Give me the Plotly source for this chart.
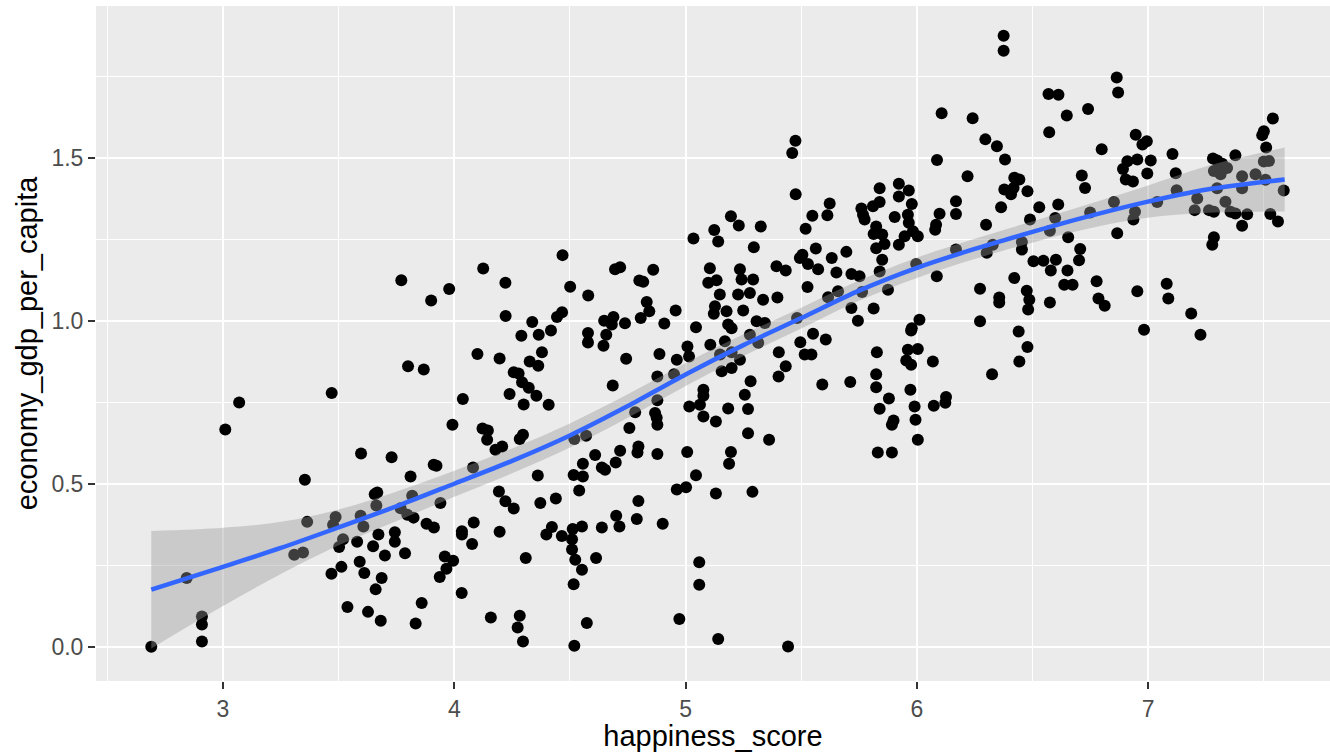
import plotly.graph_objects as go

# ---- data (happiness_score, economy_gdp_per_capita) ----
x_a = [2.69, 2.843, 2.909, 2.909, 2.909, 3.01, 3.07, 3.47, 3.80, 3.354,
       3.597, 3.729, 3.811, 3.667, 3.656, 3.818, 3.663, 3.364, 3.487, 3.476,
       3.595, 3.607, 3.768, 3.797, 3.672, 3.743, 3.743, 3.519, 3.502, 3.580,
       3.649, 3.700, 3.787, 3.308, 3.346, 3.591, 3.512, 3.469, 3.611, 3.686,
       3.660, 3.538, 3.627, 3.682, 3.833, 3.824, 3.771]
y_a = [0.0, 0.211, 0.093, 0.068, 0.016, 0.666, 0.749, 0.778, 0.860, 0.512,
       0.593, 0.581, 0.522, 0.473, 0.468, 0.463, 0.433, 0.383, 0.398, 0.374,
       0.402, 0.369, 0.425, 0.405, 0.344, 0.351, 0.322, 0.330, 0.306, 0.322,
       0.308, 0.280, 0.287, 0.282, 0.289, 0.261, 0.245, 0.224, 0.226, 0.211,
       0.176, 0.122, 0.107, 0.080, 0.071, 0.396, 1.124]

x_b = [4.290, 4.365, 4.418, 4.578, 4.578, 4.657, 4.645, 4.100, 4.196, 4.326,
       4.363, 4.379, 3.868, 4.257, 4.278, 4.293, 4.322, 4.355, 4.239, 4.300,
       4.408, 4.037, 3.992, 4.122, 4.145, 4.142, 4.178, 4.207, 4.283, 4.297,
       4.081, 3.911, 3.923, 3.940, 3.880, 3.912, 4.084, 4.033, 4.033, 4.077,
       3.959, 3.995, 3.966, 3.937, 4.032, 3.859, 4.158, 4.283, 4.274, 4.297,
       4.193, 4.221, 4.257, 4.196, 4.361, 4.372, 4.439, 4.309, 4.519, 4.570,
       4.556, 4.516, 4.556, 4.540, 4.609, 4.638, 4.652, 4.717, 4.698, 4.685,
       4.743, 4.757, 4.782, 4.796, 4.792, 4.878, 4.878, 4.878, 4.868, 4.875,
       4.878, 4.887, 4.950, 4.962, 5.008, 5.015, 5.107, 5.077, 5.077, 5.016,
       5.062, 5.077, 5.131, 5.007, 5.045, 4.962, 5.002, 5.131, 4.796, 4.789,
       4.700, 4.714, 4.638, 4.901, 4.398, 4.422, 4.465, 4.512, 4.552, 4.509,
       4.509, 4.523, 4.552, 4.613, 4.516, 4.573, 4.519, 4.973, 5.059, 5.059,
       5.141]
y_b = [0.954, 0.957, 0.970, 0.962, 0.933, 0.957, 0.923, 0.898, 0.884, 0.875,
       0.862, 0.903, 0.850, 0.842, 0.838, 0.811, 0.794, 0.770, 0.775, 0.743,
       0.742, 0.760, 0.681, 0.669, 0.663, 0.635, 0.604, 0.614, 0.637, 0.650,
       0.550, 0.558, 0.555, 0.441, 0.377, 0.366, 0.381, 0.354, 0.344, 0.315,
       0.277, 0.264, 0.239, 0.214, 0.165, 0.134, 0.090, 0.095, 0.059, 0.016,
       0.476, 0.446, 0.424, 0.353, 0.525, 0.441, 0.455, 0.272, 0.637, 0.647,
       0.561, 0.527, 0.522, 0.479, 0.588, 0.550, 0.543, 0.601, 0.565, 0.801,
       0.883, 0.671, 0.719, 0.614, 0.596, 0.591, 0.829, 0.756, 0.717, 0.702,
       0.681, 0.898, 0.836, 0.880, 0.921, 0.890, 0.926, 0.788, 0.770, 0.737,
       0.742, 0.706, 0.691, 0.597, 0.526, 0.482, 0.489, 0.470, 0.447, 0.392,
       0.402, 0.369, 0.366, 0.377, 0.344, 0.367, 0.340, 0.361, 0.369, 0.330,
       0.298, 0.267, 0.236, 0.272, 0.192, 0.073, 0.003, 0.085, 0.259, 0.190,
       0.024]

x_c = [5.170, 5.149, 5.199, 5.278, 5.314, 5.235, 5.199, 5.156, 5.403, 5.433,
       5.402, 5.496, 5.551, 5.606, 5.515, 5.544, 5.591, 5.712, 5.827, 5.824,
       5.824, 5.879, 5.839, 5.899, 5.892, 5.831, 5.892, 5.961, 6.004, 5.954,
       5.975, 6.069, 5.975, 5.972, 5.990, 5.994, 6.073, 6.126, 6.123, 6.004,
       6.325, 6.440, 6.443, 5.184, 5.270, 5.256, 5.281, 5.270, 5.361, 5.196,
       5.188, 5.289, 5.443, 6.478, 6.982, 7.226]
y_c = [0.937, 0.896, 0.903, 0.957, 0.932, 0.880, 0.855, 0.845, 0.903, 0.860,
       0.829, 0.934, 0.960, 0.942, 0.896, 0.896, 0.804, 0.812, 0.903, 0.836,
       0.796, 0.761, 0.730, 0.694, 0.681, 0.596, 0.596, 0.911, 0.913, 0.878,
       0.865, 0.875, 0.970, 0.788, 0.737, 0.696, 0.739, 0.766, 0.748, 0.635,
       0.836, 0.967, 0.875, 0.731, 0.729, 0.773, 0.814, 0.655, 0.635, 0.597,
       0.561, 0.475, 0.001, 0.919, 0.972, 0.957]

x_d = [3.900, 3.978, 4.125, 4.221, 4.222, 4.468, 4.501, 4.579, 4.337, 4.444,
       4.466, 4.648, 4.688, 4.681, 4.695, 4.717, 4.860, 4.800, 4.817, 4.832,
       4.843, 4.806, 4.738, 4.908, 4.957, 5.045, 5.034, 5.124, 5.141, 5.105,
       5.098, 5.134, 5.148, 5.127, 5.122]
y_d = [1.062, 1.097, 1.160, 1.116, 1.014, 1.201, 1.104, 1.077, 0.996, 1.011,
       1.026, 1.000, 1.011, 0.988, 1.158, 1.164, 1.156, 1.123, 1.119, 1.057,
       1.029, 1.008, 0.992, 0.991, 1.031, 0.980, 1.252, 1.278, 1.243, 1.161,
       1.116, 1.124, 1.080, 1.044, 1.021]

x_e = [6.375, 6.375, 6.107, 6.241, 6.296, 6.346, 6.381, 6.421, 6.378, 6.407,
       6.418, 6.364, 6.299, 6.087, 6.219, 6.169, 6.169, 6.098, 6.083, 6.079,
       5.475, 5.461, 5.476, 5.623, 5.613, 5.548, 5.519, 5.325, 5.196, 5.230,
       5.295, 5.235, 5.242, 5.292, 5.227, 5.278, 5.177, 5.249, 5.335, 5.397,
       5.184, 5.199, 5.307, 5.343, 5.393, 5.433, 5.494, 5.505, 5.529, 5.573,
       5.563, 5.632, 5.652, 5.695, 5.527, 5.482, 5.717, 5.752, 5.717, 5.745,
       5.813, 5.763, 5.659, 5.616, 5.760, 5.774, 5.767, 5.810, 5.839, 5.839,
       5.824, 5.850, 5.813, 5.860, 5.824, 5.850, 5.839, 5.875, 5.922, 5.922,
       5.965, 5.978, 5.961, 5.904, 5.965, 5.983, 5.947, 6.004, 5.922, 5.997,
       6.086, 6.011, 5.978, 6.273, 6.273, 6.356, 6.356, 6.421, 6.328, 6.302,
       6.169]
y_e = [1.874, 1.828, 1.636, 1.621, 1.556, 1.535, 1.494, 1.438, 1.402, 1.388,
       1.407, 1.348, 1.294, 1.493, 1.443, 1.366, 1.327, 1.328, 1.294, 1.279,
       1.552, 1.514, 1.388, 1.359, 1.323, 1.322, 1.282, 1.289, 1.320, 1.292,
       1.225, 1.158, 1.126, 1.126, 1.080, 1.085, 1.029, 1.031, 1.064, 1.071,
       0.988, 0.977, 0.998, 0.993, 1.167, 1.154, 1.192, 1.202, 1.174, 1.158,
       1.221, 1.192, 1.148, 1.211, 1.103, 1.008, 1.143, 1.136, 1.039, 1.000,
       1.037, 1.088, 1.090, 1.072, 1.344, 1.310, 1.325, 1.351, 1.364, 1.406,
       1.289, 1.264, 1.266, 1.235, 1.222, 1.187, 1.151, 1.095, 1.420, 1.381,
       1.399, 1.358, 1.325, 1.318, 1.300, 1.274, 1.259, 1.259, 1.233, 1.174,
       1.136, 1.003, 0.977, 1.098, 0.998, 1.071, 1.056, 1.131, 1.233, 1.208,
       1.218]

x_f = [6.864, 6.870, 6.569, 6.612, 6.648, 6.740, 6.572, 6.799, 6.946, 6.975,
       6.994, 6.910, 6.953, 7.011, 6.891, 6.903, 6.934, 6.996, 7.105, 7.119,
       7.123, 6.713, 6.727, 6.443, 6.478, 6.529, 6.611, 6.489, 6.598, 6.575,
       6.654, 6.749, 6.852, 6.943, 6.936, 6.866, 7.039, 6.454, 6.454, 6.706,
       6.701, 6.504, 6.547, 6.601, 6.579, 6.651, 6.637, 6.673, 6.475, 6.486,
       6.481, 6.575, 6.777, 6.785, 6.812, 6.953, 7.080, 7.087, 7.186]
y_f = [1.746, 1.700, 1.695, 1.693, 1.629, 1.649, 1.578, 1.526, 1.570, 1.540,
       1.550, 1.489, 1.494, 1.491, 1.465, 1.433, 1.427, 1.451, 1.511, 1.452,
       1.400, 1.445, 1.407, 1.433, 1.397, 1.348, 1.356, 1.310, 1.315, 1.276,
       1.256, 1.332, 1.364, 1.334, 1.310, 1.268, 1.364, 1.241, 1.218, 1.220,
       1.185, 1.182, 1.184, 1.187, 1.154, 1.154, 1.110, 1.110, 1.092, 1.064,
       1.034, 1.056, 1.121, 1.068, 1.046, 1.090, 1.113, 1.068, 1.022]

x_g = [7.280, 7.298, 7.320, 7.341, 7.377, 7.284, 7.313, 7.406, 7.464, 7.500,
       7.522, 7.510, 7.493, 7.500, 7.539, 7.298, 7.406, 7.334, 7.212, 7.201,
       7.263, 7.284, 7.356, 7.377, 7.428, 7.406, 7.528, 7.561, 7.507, 7.586,
       7.284, 7.277]
y_g = [1.497, 1.491, 1.481, 1.468, 1.507, 1.459, 1.449, 1.443, 1.449, 1.488,
       1.490, 1.531, 1.569, 1.581, 1.620, 1.406, 1.406, 1.365, 1.375, 1.339,
       1.339, 1.334, 1.334, 1.329, 1.326, 1.291, 1.327, 1.304, 1.432, 1.399,
       1.256, 1.233]

# loess smooth (line and 95% band)
smooth_x = [2.69, 3.0, 3.25, 3.5, 3.77, 4.0, 4.25, 4.5, 4.75, 5.0,
            5.25, 5.5, 5.75, 6.0, 6.25, 6.45, 6.7, 6.98, 7.26, 7.59]
smooth_y = [0.175, 0.245, 0.303, 0.366, 0.436, 0.500, 0.570, 0.648, 0.738, 0.835,
            0.925, 1.008, 1.092, 1.162, 1.220, 1.262, 1.312, 1.362, 1.403, 1.433]
smooth_lo = [-0.005, 0.125, 0.223, 0.311, 0.391, 0.460, 0.532, 0.611, 0.702, 0.800,
             0.892, 0.976, 1.061, 1.131, 1.189, 1.230, 1.276, 1.314, 1.331, 1.335]
smooth_hi = [0.355, 0.365, 0.383, 0.421, 0.481, 0.540, 0.608, 0.685, 0.774, 0.870,
             0.958, 1.040, 1.123, 1.193, 1.251, 1.294, 1.348, 1.410, 1.475, 1.531]

x_ticks = [3, 4, 5, 6, 7]
x_minor = [2.5, 3.5, 4.5, 5.5, 6.5, 7.5]
y_ticks = [0.0, 0.5, 1.0, 1.5]
y_tick_text = ["0.0", "0.5", "1.0", "1.5"]
y_minor = [0.25, 0.75, 1.25, 1.75]

happiness_score = x_a + x_b + x_c + x_d + x_e + x_f + x_g
gdp = y_a + y_b + y_c + y_d + y_e + y_f + y_g

FONT = "Liberation Sans, Arial, Helvetica, sans-serif"

fig = go.Figure()
fig.add_trace(go.Scatter(x=happiness_score, y=gdp, mode="markers",
                         marker=dict(color="black", size=12, line=dict(width=0)),
                         hoverinfo="x+y", showlegend=False))
fig.add_trace(go.Scatter(x=smooth_x, y=smooth_lo, mode="lines", line=dict(width=0, shape="spline"),
                         showlegend=False, hoverinfo="skip"))
fig.add_trace(go.Scatter(x=smooth_x, y=smooth_hi, mode="lines", line=dict(width=0, shape="spline"),
                         fill="tonexty", fillcolor="rgba(153,153,153,0.4)",
                         showlegend=False, hoverinfo="skip"))
fig.add_trace(go.Scatter(x=smooth_x, y=smooth_y, mode="lines",
                         line=dict(color="#3366FF", width=4.5, shape="spline", smoothing=0.8),
                         showlegend=False))

axis_common = dict(
    showgrid=True, gridcolor="white", gridwidth=2.4,
    zeroline=False, showline=False,
    ticks="outside", ticklen=7, tickwidth=2, tickcolor="#333333",
    tickfont=dict(family=FONT, size=23, color="#4D4D4D"),
    automargin=False,
)

fig.update_layout(
    width=1330, height=752,
    margin=dict(l=96, r=0, t=6, b=71),
    paper_bgcolor="white", plot_bgcolor="#EBEBEB",
    font=dict(family=FONT),
    xaxis=dict(range=[2.451, 7.786], tickvals=x_ticks,
               minor=dict(tickvals=x_minor, showgrid=True, gridcolor="white", gridwidth=1.2, ticks=""),
               title=dict(text="happiness_score", font=dict(family=FONT, size=29, color="black"), standoff=6),
               **axis_common),
    yaxis=dict(range=[-0.105, 1.965], tickvals=y_ticks, ticktext=y_tick_text,
               minor=dict(tickvals=y_minor, showgrid=True, gridcolor="white", gridwidth=1.2, ticks=""),
               title=dict(text="economy_gdp_per_capita", font=dict(family=FONT, size=29, color="black"), standoff=5),
               **axis_common),
)

fig.write_html("out.html", config={"displayModeBar": False},
               post_script="document.body.style.margin='0';document.body.style.padding='0';")
